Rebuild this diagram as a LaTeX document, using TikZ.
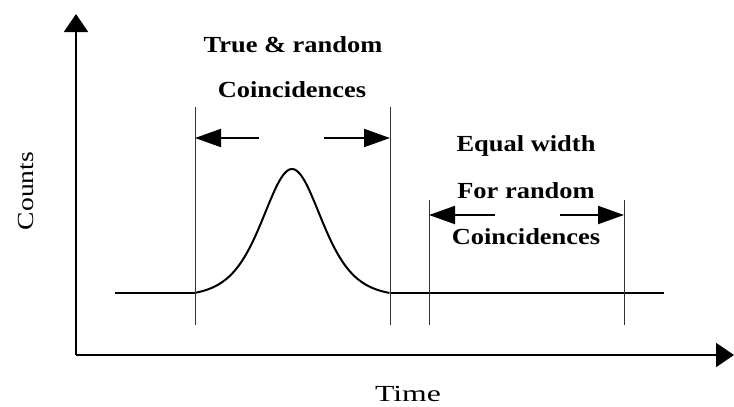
\documentclass[tikz,border=0pt]{standalone}
\usepackage{fontspec}
\setmainfont{Liberation Serif}
\usetikzlibrary{arrows.meta}
\begin{document}
\begin{tikzpicture}[x=1pt,y=-1pt,
  axis/.style={line width=2pt,-{Triangle[length=18pt,width=24pt]}},
  dimarrow/.style={line width=2pt,-{Triangle[length=26pt,width=18pt]}},
  guide/.style={line width=1pt,black!80},
  curve/.style={line width=2pt},
  lbl/.style={font=\fontsize{23}{25}\selectfont\bfseries,inner sep=0pt,xscale=1.15,transform shape},
  axlbl/.style={font=\fontsize{23}{25}\selectfont,inner sep=0pt,transform shape}]
\useasboundingbox (0,0) rectangle (734,407);
% axes
\coordinate (o) at (76,355);
\coordinate (ytip) at (76,14);
\coordinate (xtip) at (734,355);
\draw[axis] (o) -- (ytip);
\draw[axis] (o) -- (xtip);
% baseline and peak
\coordinate (b0) at (115,293);
\coordinate (b1) at (195,293);
\coordinate (b2) at (390,293);
\coordinate (b3) at (664,293);
\draw[curve] (b0) -- (b1);
\draw[curve] (b2) -- (b3);
\draw[curve,domain=-97.5:97.5,samples=150,smooth]
  plot ({292+\x},{293-124*(4/((exp(\x/40)+exp(-\x/40))^2)-0.0296)/(1-0.0296)});
% guide lines
\coordinate (g1t) at (195,107); \coordinate (g1b) at (195,325);
\coordinate (g2t) at (390,107); \coordinate (g2b) at (390,325);
\coordinate (g3t) at (429,200); \coordinate (g3b) at (429,325);
\coordinate (g4t) at (624,200); \coordinate (g4b) at (624,325);
\draw[guide] (g1t) -- (g1b);
\draw[guide] (g2t) -- (g2b);
\draw[guide] (g3t) -- (g3b);
\draw[guide] (g4t) -- (g4b);
% dimension arrows
\coordinate (a1s) at (259,138); \coordinate (a1e) at (195,138);
\coordinate (a2s) at (324,138); \coordinate (a2e) at (390,138);
\coordinate (a3s) at (495,215); \coordinate (a3e) at (429,215);
\coordinate (a4s) at (560,215); \coordinate (a4e) at (624,215);
\draw[dimarrow] (a1s) -- (a1e);
\draw[dimarrow] (a2s) -- (a2e);
\draw[dimarrow] (a3s) -- (a3e);
\draw[dimarrow] (a4s) -- (a4e);
% labels
\node[lbl,anchor=base] (t1) at (293,52) {True \& random};
\node[lbl,anchor=base] (t2) at (292,97) {Coincidences};
\node[lbl,anchor=base] (t3) at (526,151) {Equal width};
\node[lbl,anchor=base] (t4) at (526,198) {For random};
\node[lbl,anchor=base] (t5) at (526,244) {Coincidences};
\node[axlbl,anchor=base,xscale=1.38] (time) at (408,401) {Time};
\node[axlbl,anchor=base,rotate=90,xscale=1.2] (counts) at (33,191) {Counts};
\end{tikzpicture}
\end{document}
